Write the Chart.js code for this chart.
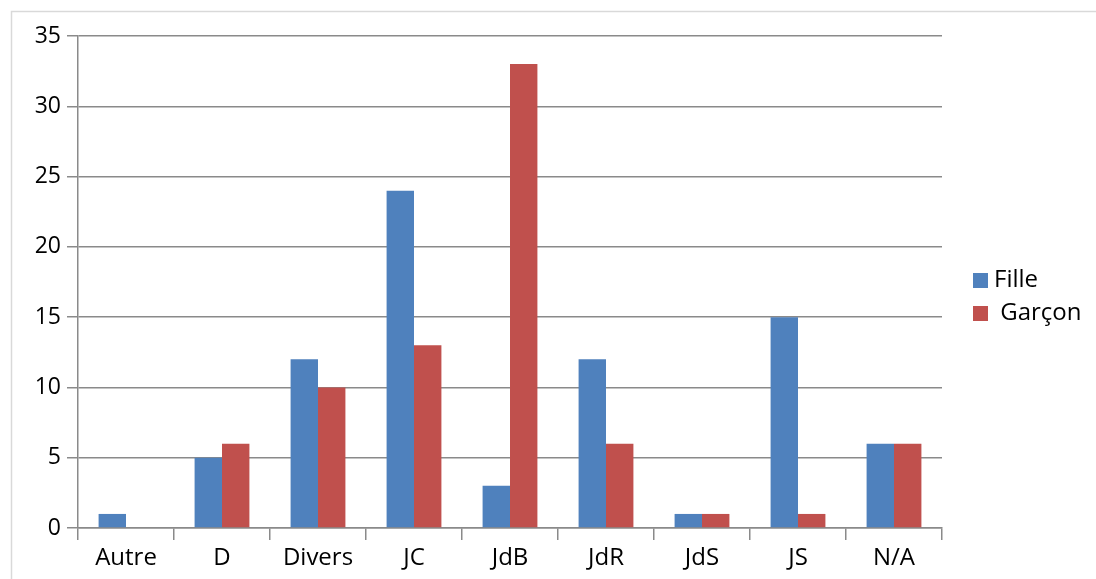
<!DOCTYPE html>
<html>
<head>
<meta charset="utf-8">
<script src="https://cdn.jsdelivr.net/npm/chart.js@4"></script>
<style>
  html, body { margin: 0; padding: 0; background: #fff; }
  #wrap { width: 1096px; height: 579px; position: relative; }
</style>
</head>
<body>
<div id="wrap"><canvas id="myChart"></canvas></div>
<script>
const categories = ['Autre', 'D', 'Divers', 'JC', 'JdB', 'JdR', 'JdS', 'JS', 'N/A'];
const fille = [1, 5, 12, 24, 3, 12, 1, 15, 6];
const garcon = [0, 6, 10, 13, 33, 6, 1, 1, 6];
const yTicks = [0, 5, 10, 15, 20, 25, 30, 35];

const axisGray = '#8a8a8a';
const fontFam = '"Open Sans", Lato, sans-serif';

// cadre extérieur + légende dessinée à la main
const decor = {
  id: 'decor',
  beforeDraw(chart) {
    const c = chart.ctx;
    c.save();
    c.strokeStyle = '#d9d9d9';
    c.lineWidth = 1.5;
    c.beginPath();
    c.moveTo(11.5, 579);
    c.lineTo(11.5, 11.5);
    c.lineTo(1096, 11.5);
    c.stroke();
    c.restore();
  },
  afterDraw(chart) {
    const c = chart.ctx;
    const labels = ['Fille', ' Garçon'];
    c.save();
    c.font = '24px ' + fontFam;
    c.textBaseline = 'middle';
    chart.data.datasets.forEach((ds, i) => {
      const y = 280 + i * 33;
      c.fillStyle = ds.backgroundColor;
      c.fillRect(973, y - 7, 15, 15);
      c.fillStyle = '#000';
      c.fillText(labels[i], 994, y);
    });
    c.restore();
  }
};

new Chart(document.getElementById('myChart').getContext('2d'), {
  type: 'bar',
  data: {
    labels: categories,
    datasets: [
      { label: 'Fille', data: fille, backgroundColor: '#4F81BD' },
      { label: 'Garçon', data: garcon, backgroundColor: '#C0504D' }
    ]
  },
  options: {
    responsive: true,
    maintainAspectRatio: false,
    animation: false,
    layout: { padding: { top: 36, right: 154, left: 0, bottom: 0 } },
    datasets: { bar: { categoryPercentage: 0.571, barPercentage: 1.0 } },
    plugins: { legend: { display: false }, tooltip: { enabled: false } },
    scales: {
      x: {
        afterFit(s) { s.height = 51; },
        grid: { display: true, drawOnChartArea: false, drawTicks: true, tickLength: 12, color: axisGray, lineWidth: 1.5, offset: true },
        border: { display: true, color: axisGray, width: 1.5 },
        ticks: { color: '#000', font: { family: fontFam, size: 24 }, padding: 4 }
      },
      y: {
        min: 0,
        max: 35,
        afterFit(s) { s.width = 78; },
        afterBuildTicks(s) { s.ticks = yTicks.map(v => ({ value: v })); },
        grid: { color: axisGray, lineWidth: 1.5, tickLength: 11 },
        border: { display: true, color: axisGray, width: 1.5 },
        ticks: { color: '#000', font: { family: fontFam, size: 23 }, padding: 6 }
      }
    }
  },
  plugins: [decor]
});
</script>
</body>
</html>
